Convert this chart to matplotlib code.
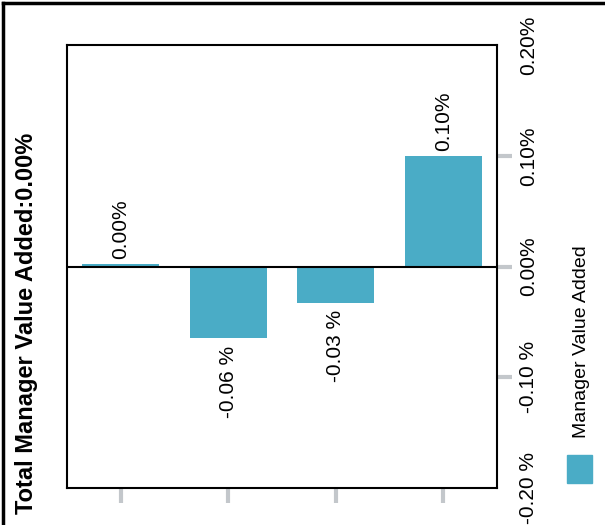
import matplotlib
matplotlib.use("Agg")
import matplotlib.pyplot as plt
from matplotlib.lines import Line2D
from matplotlib.patches import Rectangle

categories = ["A", "B", "C", "D"]
values = [0.002, -0.065, -0.033, 0.100]          # percent
bar_labels = ["0.00%", "-0.06 %", "-0.03 %", "0.10%"]
y_ticks = [-0.20, -0.10, 0.00, 0.10, 0.20]
y_tick_labels = ["-0.20 %", "-0.10 %", "0.00%", "0.10%", "0.20%"]
title = "Total Manager Value Added:0.00%"
legend_label = "Manager Value Added"

BAR = "#4aacc6"
TICK = "#c3c7cb"
FONT = "Liberation Sans"

fig = plt.figure(figsize=(6.05, 5.25), dpi=100)
ax = fig.add_axes([67/605, 37/525, 430/605, 443/525])

x = list(range(len(categories)))
ax.bar(x, values, width=0.72, color=BAR, zorder=2)
ax.axhline(0, color="black", lw=1.5, zorder=3)
ax.set_xlim(-0.5, 3.5)
ax.set_ylim(-0.2, 0.2)

for xi, v, lab in zip(x, values, bar_labels):
    if v >= 0:
        ax.annotate(lab, (xi, v), xytext=(0, 3.5), textcoords="offset points",
                    rotation=90, ha="center", va="bottom", fontsize=15, family=FONT)
    else:
        ax.annotate(lab, (xi, v), xytext=(0, -5), textcoords="offset points",
                    rotation=90, ha="center", va="top", fontsize=15, family=FONT)

ax.set_xticks(x)
ax.set_xticklabels([])
ax.tick_params(axis="x", length=11, width=3, color=TICK, direction="out", pad=2)

ax.yaxis.tick_right()
ax.set_yticks(y_ticks)
ax.set_yticklabels(y_tick_labels, rotation=90, va="center", fontsize=15, family=FONT)
ax.tick_params(axis="y", length=11, width=3, color=TICK, direction="out", pad=5)
ticks = ax.yaxis.get_major_ticks()
ticks[0].tick2line.set_visible(False)
ticks[-1].tick2line.set_visible(False)

for s in ax.spines.values():
    s.set_linewidth(1.5)
    s.set_color("black")

fig.text(27/605, 1 - 323/525, title, rotation=90, ha="center", va="center",
         fontsize=17, fontweight="bold", family=FONT)

# legend
fig.patches.append(Rectangle((567/605, 1 - 483/525), 25/605, 28/525,
                             transform=fig.transFigure, color=BAR))
fig.text(582/605, 1 - 342/525, legend_label, rotation=90, ha="center", va="center",
         fontsize=14, family=FONT)

# outer frame (left and top edges visible)
fig.add_artist(Line2D([3/605, 3/605], [0, 1 - 3/525], transform=fig.transFigure,
                      color="black", lw=2.5))
fig.add_artist(Line2D([3/605, 1], [1 - 3/525, 1 - 3/525], transform=fig.transFigure,
                      color="black", lw=2.5))

fig.savefig("out.png", dpi=100)
